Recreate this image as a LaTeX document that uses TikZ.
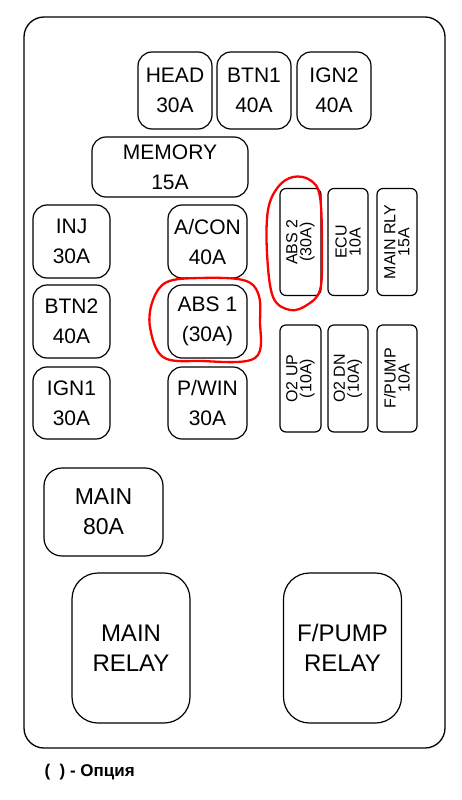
\documentclass[tikz,border=0pt]{standalone}
\usepackage{fontspec}
\setmainfont{Liberation Sans}
\usepackage{tikz}
\usetikzlibrary{positioning, shapes, calc}

\begin{document}
\begin{tikzpicture}[x=1pt, y=-1pt,
  fuse/.style={draw, rectangle, rounded corners=14pt, line width=1.2pt, align=center, inner sep=0pt,
    font=\fontsize{21}{30}\selectfont},
  mini/.style={draw, rectangle, rounded corners=6pt, line width=1.2pt, align=center, inner sep=0pt,
    rotate=90, minimum width=107pt, font=\fontsize{16}{14}\selectfont},
  relay/.style={draw, rectangle, rounded corners=26pt, line width=1.2pt, align=center, inner sep=0pt,
    minimum width=118pt, minimum height=150pt, font=\fontsize{24}{30}\selectfont},
  redmark/.style={draw=red, line width=2.3pt}
]
  \useasboundingbox (0,0) rectangle (461,800);
  \draw[line width=1.3pt, rounded corners=20pt] (24,17) rectangle (445,748);

  \node[fuse, minimum width=74pt, minimum height=77pt]  (head)   at (175,90.5)  {HEAD\\30A};
  \node[fuse, minimum width=74pt, minimum height=77pt]  (btn1)   at (254,90.5)  {BTN1\\40A};
  \node[fuse, minimum width=74pt, minimum height=77pt]  (ign2)   at (334,90.5)  {IGN2\\40A};
  \node[fuse, minimum width=156pt, minimum height=60pt] (memory) at (170,167)   {MEMORY\\15A};
  \node[fuse, minimum width=77pt, minimum height=73pt]  (inj)    at (71.5,241.5) {INJ\\30A};
  \node[fuse, minimum width=79pt, minimum height=73pt]  (acon)   at (207.5,241.5) {A/CON\\40A};
  \node[fuse, minimum width=77pt, minimum height=73pt]  (btn2)   at (71.5,321.5) {BTN2\\40A};
  \node[fuse, minimum width=79pt, minimum height=73pt]  (absA)   at (207.5,321.5) {ABS 1\\(30A)};
  \node[fuse, minimum width=77pt, minimum height=72pt]  (ign1)   at (71.5,403)   {IGN1\\30A};
  \node[fuse, minimum width=79pt, minimum height=72pt]  (pwin)   at (207.5,403)  {P/WIN\\30A};

  \node[mini, minimum height=41pt] (absB)    at (300.5,242)   {ABS 2\\(30A)};
  \node[mini, minimum height=40pt] (ecu)     at (348,242)     {ECU\\10A};
  \node[mini, minimum height=40pt] (mainrly) at (397,242)     {MAIN RLY\\15A};
  \node[mini, minimum height=41pt] (oup)     at (300.5,378.5) {O2 UP\\(10A)};
  \node[mini, minimum height=40pt] (odn)     at (348,378.5)   {O2 DN\\(10A)};
  \node[mini, minimum height=40pt] (fpump)   at (397,378.5)   {F/PUMP\\10A};

  \node[fuse, rounded corners=18pt, minimum width=119pt, minimum height=88pt,
    font=\fontsize{23}{30}\selectfont] (main) at (103.5,512) {MAIN\\80A};
  \node[relay] (mainrelay)  at (131,648)   {MAIN\\RELAY};
  \node[relay] (fpumprelay) at (342.5,648) {F/PUMP\\RELAY};

  % hand marks
  \draw[redmark] plot[smooth cycle, tension=0.6] coordinates {(167,282) (200,278) (243,280) (258,293)
    (260,320) (255,358) (200,361) (163,357) (150,327) (153,300)};
  \draw[redmark] plot[smooth cycle, tension=0.6] coordinates {(293,177) (310,180) (320,197) (322,253)
    (320,290) (307,305) (290,310) (273,297) (267,253) (268,210) (278,187)};

  \node[anchor=west, font=\fontsize{17}{18}\selectfont\bfseries] (note) at (41,772) {(\ \ ) - Опция};
\end{tikzpicture}
\end{document}
